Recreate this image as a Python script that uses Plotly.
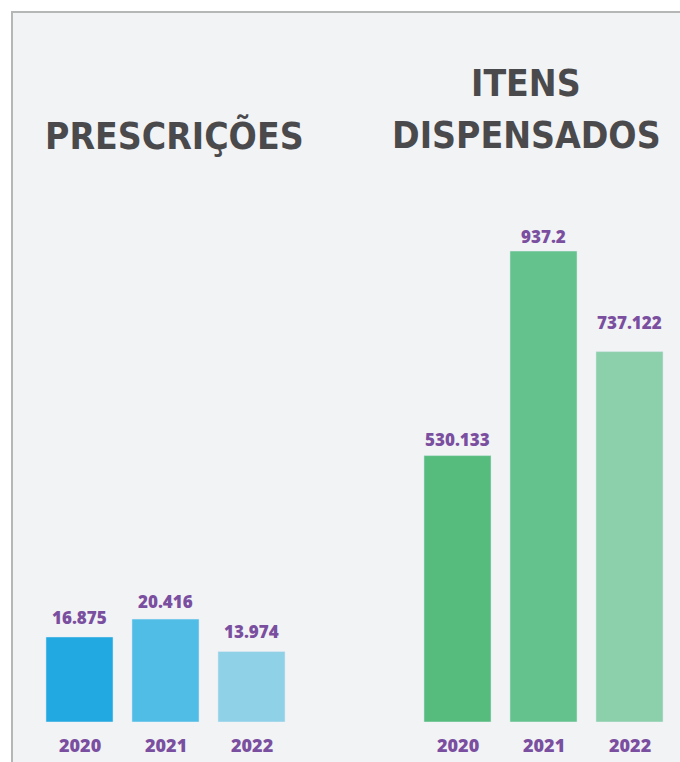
import plotly.graph_objects as go

W, H = 680, 762

# ---- data ----
anos = ["2020", "2021", "2022"]
prescricoes = [16.875, 20.416, 13.974]
prescricoes_txt = ["16.875", "20.416", "13.974"]
itens = [530.133, 937.2, 737.122]
itens_txt = ["530.133", "937.2", "737.122"]
titulo_esq = "PRESCRIÇÕES"
titulo_dir = ["ITENS", "DISPENSADOS"]

# ---- style ----
cores_esq = ["#23a9e1", "#50bde6", "#8fd1e6"]
cores_dir = ["#55bc7d", "#64c28d", "#8ccfab"]
roxo = "#7b4fa0"
cinza_titulo = "#4a4a4d"
fundo = "#f2f3f5"
borda = "#b5b7b6"
num_font = dict(family="Open Sans, Lato, sans-serif", size=17, color=roxo, weight=800)
ano_font = dict(family="Open Sans, Lato, sans-serif", size=18, color=roxo, weight=800)
tit_font = dict(family="Noto Sans ExtraCondensed, Noto Sans Condensed, Liberation Sans Narrow, DejaVu Sans Condensed, sans-serif",
                size=37, color=cinza_titulo, weight="bold")
shift_esq = [19, 18, 20]
shift_dir = [16, 15, 29]

def px_x(p):
    return p / W

def px_y(p):
    return 1 - p / H

bottom = 722
top_dom = 200
left_dom = (36.5, 294.5)
right_dom = (414.5, 672.5)
scale_esq = 5.04
scale_dir = 0.5025

fig = go.Figure()
fig.add_trace(go.Bar(x=[0, 1, 2], y=prescricoes, marker_color=cores_esq, width=0.78,
                     xaxis="x", yaxis="y", hoverinfo="skip"))
fig.add_trace(go.Bar(x=[0, 1, 2], y=itens, marker_color=cores_dir, width=0.78,
                     xaxis="x2", yaxis="y2", hoverinfo="skip"))

ann = []
for i in range(3):
    ann.append(dict(x=i, y=prescricoes[i], xref="x", yref="y", text=prescricoes_txt[i],
                    showarrow=False, yanchor="middle", yshift=shift_esq[i], font=num_font))
    ann.append(dict(x=i, y=itens[i], xref="x2", yref="y2", text=itens_txt[i],
                    showarrow=False, yanchor="middle", yshift=shift_dir[i], font=num_font))
    ann.append(dict(x=i, y=0, xref="x", yref="y", text=anos[i], showarrow=False,
                    yanchor="middle", yshift=-23, font=ano_font))
    ann.append(dict(x=i, y=0, xref="x2", yref="y2", text=anos[i], showarrow=False,
                    yanchor="middle", yshift=-23, font=ano_font))

ann.append(dict(x=px_x(175), y=px_y(136), xref="paper", yref="paper", text=titulo_esq,
                showarrow=False, xanchor="center", yanchor="middle", font=tit_font))
ann.append(dict(x=px_x(526), y=px_y(83), xref="paper", yref="paper", text=titulo_dir[0],
                showarrow=False, xanchor="center", yanchor="middle", font=tit_font))
ann.append(dict(x=px_x(526), y=px_y(135.5), xref="paper", yref="paper", text=titulo_dir[1],
                showarrow=False, xanchor="center", yanchor="middle", font=tit_font))

shapes = [
    dict(type="rect", xref="paper", yref="paper", x0=px_x(12), x1=1.01, y0=-0.01, y1=px_y(12),
         fillcolor=fundo, line=dict(width=0), layer="below"),
    dict(type="line", xref="paper", yref="paper", x0=px_x(11), x1=1.01, y0=px_y(12), y1=px_y(12),
         line=dict(color=borda, width=2), layer="below"),
    dict(type="line", xref="paper", yref="paper", x0=px_x(12), x1=px_x(12), y0=-0.01, y1=px_y(11),
         line=dict(color=borda, width=2), layer="below"),
]

dom_h = bottom - top_dom
ax_common = dict(showgrid=False, zeroline=False, showticklabels=False, showline=False, ticks="")
fig.update_layout(
    width=W, height=H, margin=dict(l=0, r=0, t=0, b=0),
    paper_bgcolor="white", plot_bgcolor="rgba(0,0,0,0)", showlegend=False,
    xaxis=dict(domain=[px_x(left_dom[0]), px_x(left_dom[1])], range=[-0.5, 2.5], anchor="y", **ax_common),
    yaxis=dict(domain=[px_y(bottom), px_y(top_dom)], range=[0, dom_h / scale_esq], anchor="x", **ax_common),
    xaxis2=dict(domain=[px_x(right_dom[0]), px_x(right_dom[1])], range=[-0.5, 2.5], anchor="y2", **ax_common),
    yaxis2=dict(domain=[px_y(bottom), px_y(top_dom)], range=[0, dom_h / scale_dir], anchor="x2", **ax_common),
    annotations=ann, shapes=shapes,
)
fig.write_html("out.html", config={"displayModeBar": False},
               post_script="document.body.style.margin='0';document.body.style.overflow='hidden';")
